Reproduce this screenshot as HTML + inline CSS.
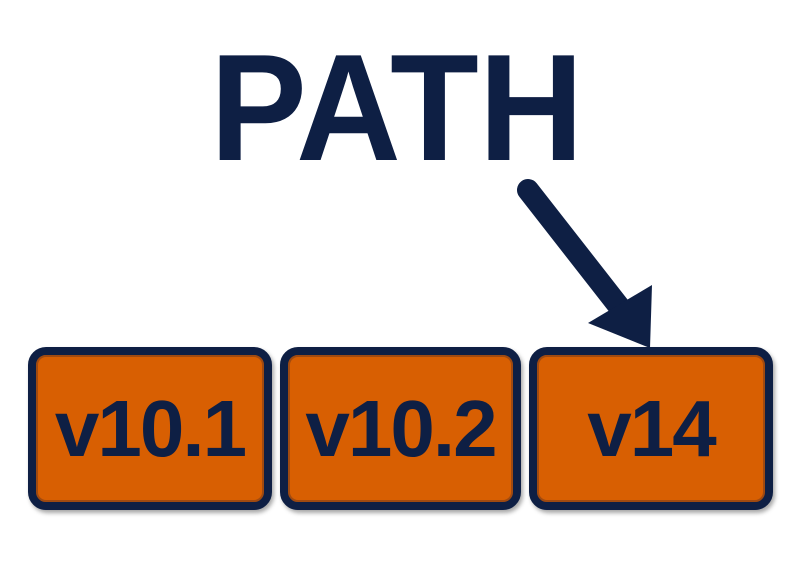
<!DOCTYPE html>
<html><head><style>
body{margin:0;width:800px;height:577px;background:#fff;overflow:hidden;font-family:"Liberation Sans",sans-serif}
.b{position:absolute;top:347px;height:147px;border:8px solid #0e1f44;border-radius:18px;background:#d85f02;box-shadow:inset 0 0 0 2px #a04a10,2px 3px 4px rgba(0,0,0,.35);display:flex;align-items:center;justify-content:center;font-weight:bold;font-size:80px;color:#0e1f44;letter-spacing:-2px}
</style></head><body>
<div style="position:absolute;left:210px;top:28px;font-weight:bold;font-size:152px;color:#0e1f44;line-height:160px;letter-spacing:0px;transform:scaleX(0.955);transform-origin:0 0">PATH</div>
<svg width="800" height="577" style="position:absolute;left:0;top:0">
<line x1="528" y1="190" x2="628" y2="318" stroke="#0e1f44" stroke-width="22" stroke-linecap="round"/>
<polygon points="588,323 652,285 650,348" fill="#0e1f44"/>
</svg>
<div class="b" style="left:28px;width:228px">v10.1</div>
<div class="b" style="left:280px;width:225px">v10.2</div>
<div class="b" style="left:529px;width:228px">v14</div>
</body></html>
